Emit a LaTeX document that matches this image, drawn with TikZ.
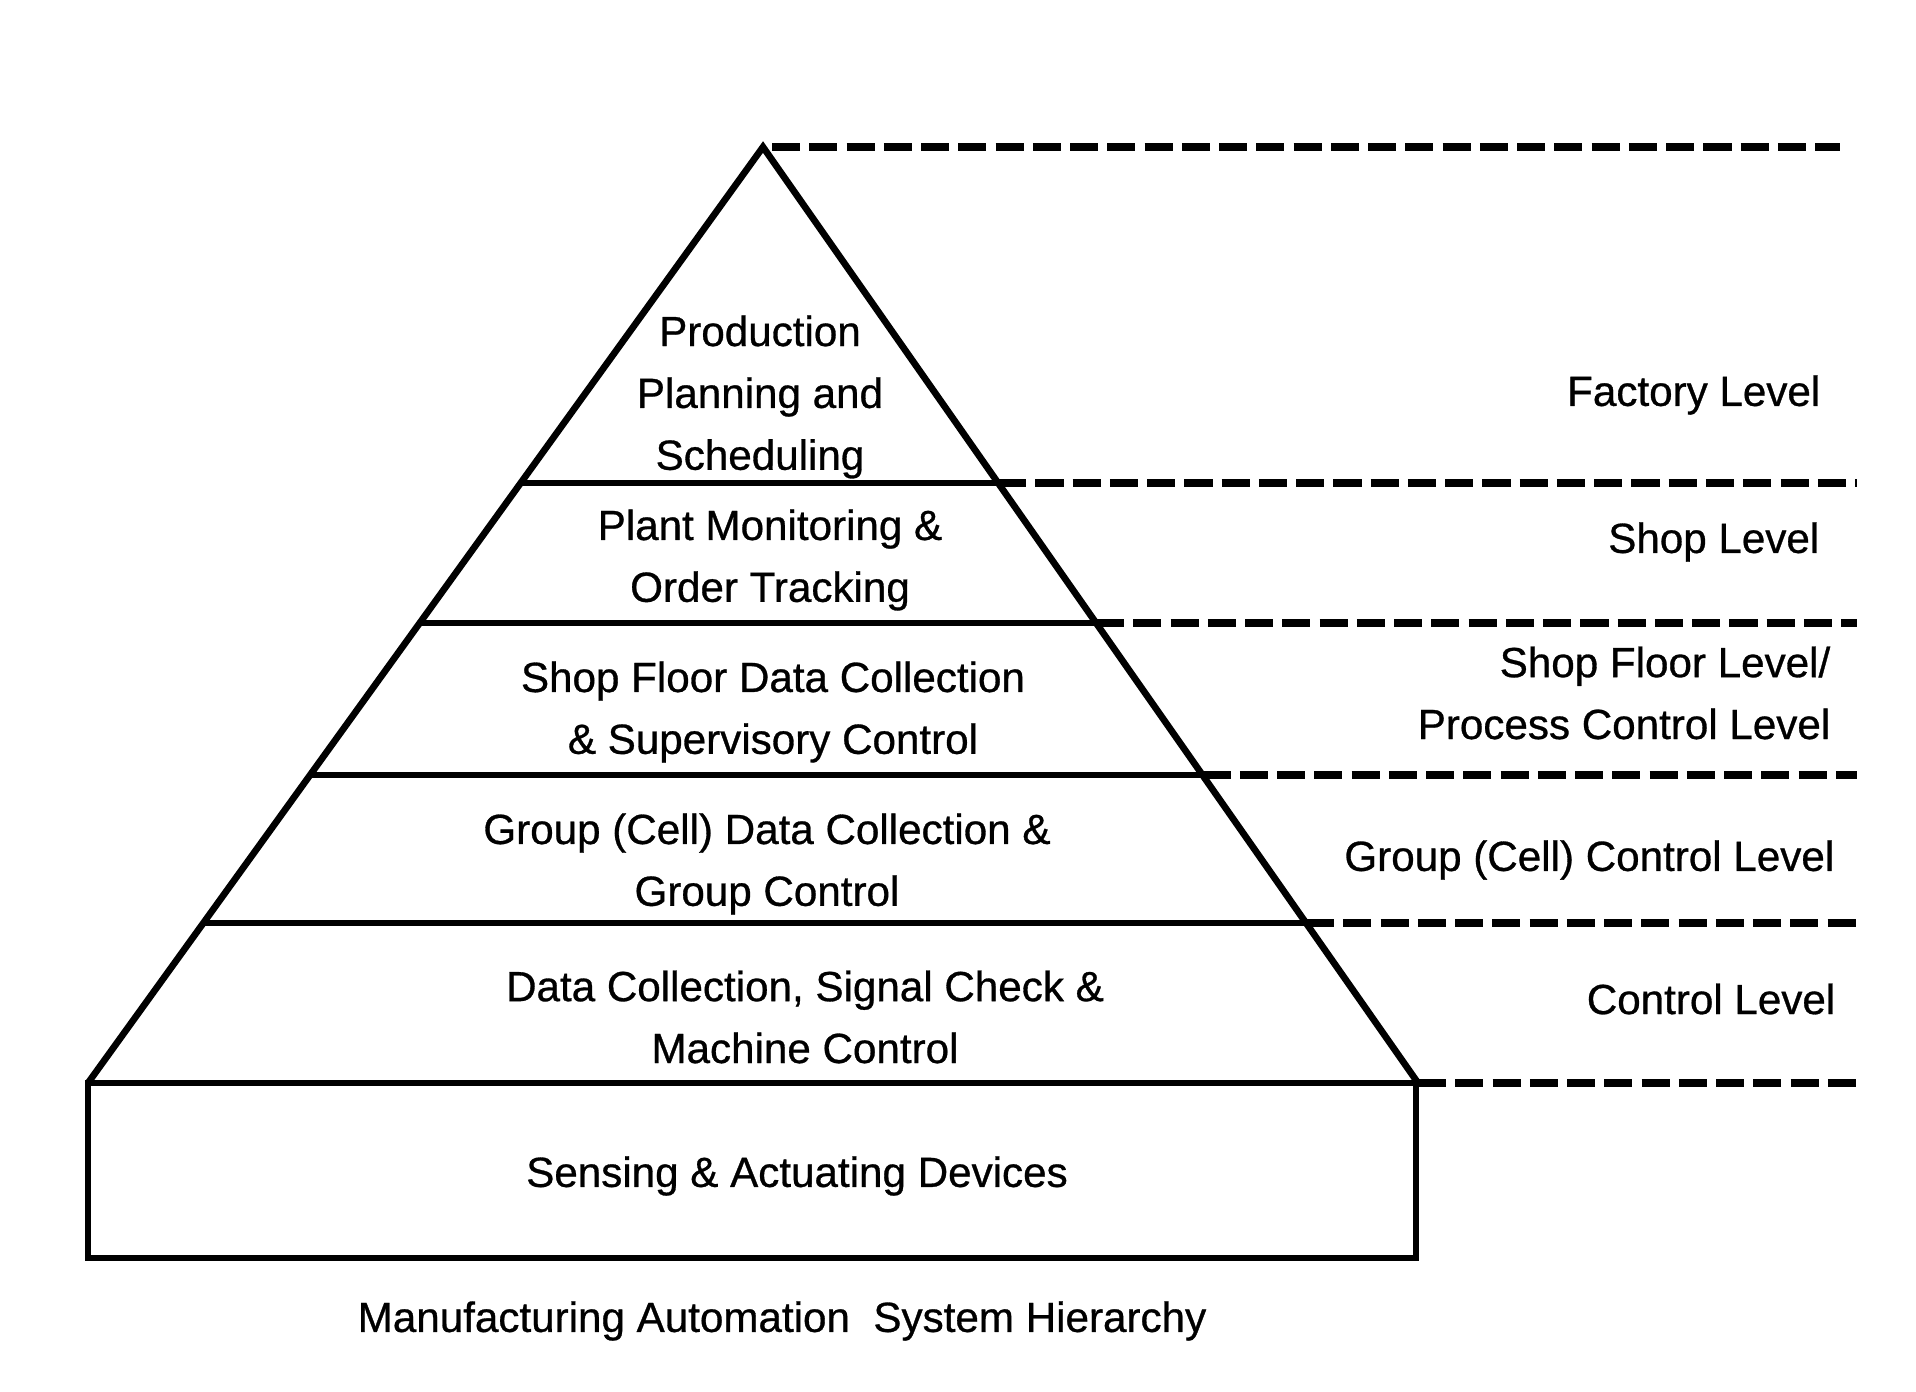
\documentclass[tikz,border=0pt]{standalone}
\usepackage{fontspec}
\setmainfont{Liberation Sans}[FakeBold=0.7]
\usepackage{tikz}
\usetikzlibrary{calc}

\begin{document}
\begin{tikzpicture}[
  level/.style={font=\fontsize{12}{17.6}\selectfont, align=center, inner sep=0pt},
  tag/.style={font=\fontsize{12}{17.6}\selectfont, align=right, anchor=east, inner sep=0pt},
  edge/.style={line width=1.9pt, line join=miter},
  guide/.style={line width=2.4pt, dash pattern=on 8pt off 2.6pt}
]
  \useasboundingbox (0,0) rectangle (19.16,-13.92);

  % Pyramid corners and layer dividers
  \coordinate (apex) at (7.63,-1.47);
  \coordinate (bl) at (0.88,-10.83);
  \coordinate (br) at (14.18,-10.83);
  \coordinate (l1) at ($(apex)!0.359!(bl)$);
  \coordinate (r1) at ($(apex)!0.359!(br)$);
  \coordinate (l2) at ($(apex)!0.5085!(bl)$);
  \coordinate (r2) at ($(apex)!0.5085!(br)$);
  \coordinate (l3) at ($(apex)!0.671!(bl)$);
  \coordinate (r3) at ($(apex)!0.671!(br)$);
  \coordinate (l4) at ($(apex)!0.829!(bl)$);
  \coordinate (r4) at ($(apex)!0.829!(br)$);

  \draw[edge] (bl) -- (apex) -- (br);
  \draw[edge] (l1) -- (r1);
  \draw[edge] (l2) -- (r2);
  \draw[edge] (l3) -- (r3);
  \draw[edge] (l4) -- (r4);
  \draw[edge] (bl) rectangle ($(br)+(-0.02,-1.75)$);

  % Layers
  \node[level] (plan) at (7.60,-3.97) {Production\\Planning and\\Scheduling};
  \node[level] (plant) at (7.70,-5.60) {Plant Monitoring \&\\Order Tracking};
  \node[level] (floor) at (7.73,-7.12) {Shop Floor Data Collection\\\& Supervisory Control};
  \node[level] (group) at (7.67,-8.64) {Group (Cell) Data Collection \&\\Group Control};
  \node[level] (machine) at (8.05,-10.17) {Data Collection, Signal Check \&\\Machine Control};
  \node[level] (devices) at (7.97,-11.76) {Sensing \& Actuating Devices};
  \node[level] (caption) at (7.82,-13.21) {Manufacturing Automation~ System Hierarchy};

  % Level guides on the right
  \coordinate (end0) at (18.40,0);
  \coordinate (end) at (18.57,0);
  \coordinate (top) at ($(apex)+(0.09,0)$);
  \draw[guide] (top) -- (top -| end0);
  \draw[guide] (r1) -- (r1 -| end);
  \draw[guide] (r2) -- (r2 -| end);
  \draw[guide] (r3) -- (r3 -| end);
  \draw[guide] (r4) -- (r4 -| end);
  \draw[guide] (br) -- (br -| end);

  \node[tag] (factory) at (18.21,-3.95) {Factory Level};
  \node[tag] (shop) at (18.20,-5.42) {Shop Level};
  \node[tag] (process) at (18.31,-6.93) {Shop Floor Level/\\Process Control Level};
  \node[tag] (cell) at (18.35,-8.60) {Group (Cell) Control Level};
  \node[tag] (control) at (18.36,-9.99) {Control Level};
\end{tikzpicture}
\end{document}
